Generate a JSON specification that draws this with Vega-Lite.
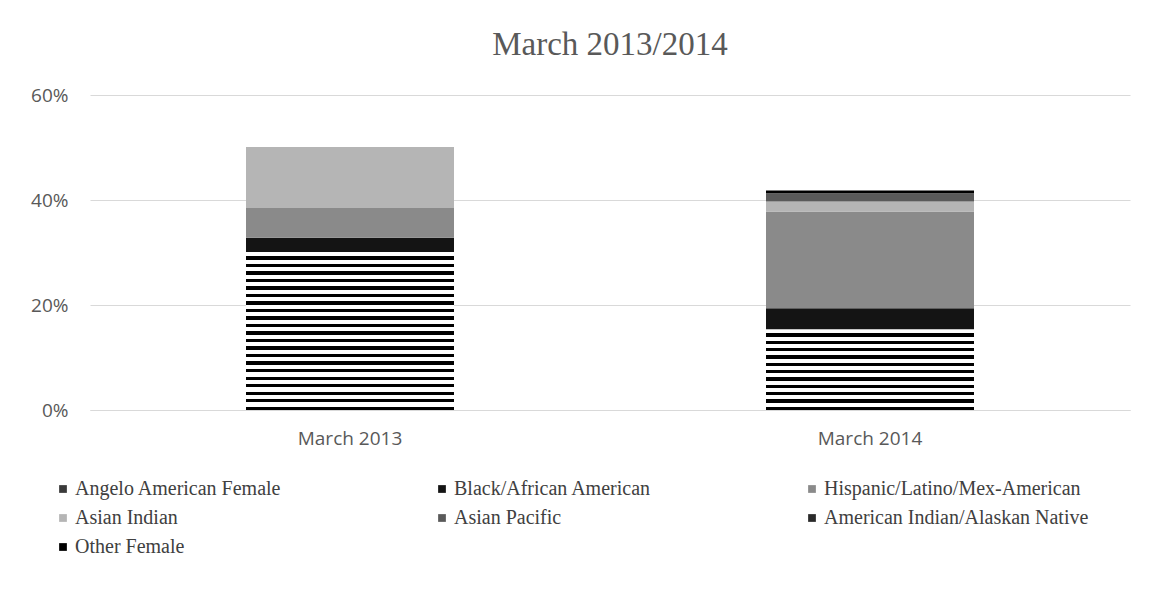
{
  "$schema": "https://vega.github.io/schema/vega-lite/v6.json",
  "autosize": {"type": "none"},
  "width": 1040,
  "height": 315,
  "padding": {"left": 90, "top": 95, "right": 21, "bottom": 179},
  "background": "white",
  "title": {
    "text": "March 2013/2014",
    "font": "Liberation Serif",
    "fontSize": 33,
    "fontWeight": "normal",
    "color": "#595959",
    "anchor": "middle",
    "offset": 24
  },
  "data": {
    "values": [
      {"period": "March 2013", "race": "Angelo American Female", "order": 1, "share": 0.301},
      {"period": "March 2013", "race": "Black/African American", "order": 2, "share": 0.027},
      {"period": "March 2013", "race": "Hispanic/Latino/Mex-American", "order": 3, "share": 0.057},
      {"period": "March 2013", "race": "Asian Indian", "order": 4, "share": 0.116},
      {"period": "March 2013", "race": "Asian Pacific", "order": 5, "share": 0.0},
      {"period": "March 2013", "race": "American Indian/Alaskan Native", "order": 6, "share": 0.0},
      {"period": "March 2013", "race": "Other Female", "order": 7, "share": 0.0},
      {"period": "March 2014", "race": "Angelo American Female", "order": 1, "share": 0.154},
      {"period": "March 2014", "race": "Black/African American", "order": 2, "share": 0.040},
      {"period": "March 2014", "race": "Hispanic/Latino/Mex-American", "order": 3, "share": 0.184},
      {"period": "March 2014", "race": "Asian Indian", "order": 4, "share": 0.019},
      {"period": "March 2014", "race": "Asian Pacific", "order": 5, "share": 0.016},
      {"period": "March 2014", "race": "American Indian/Alaskan Native", "order": 6, "share": 0.0},
      {"period": "March 2014", "race": "Other Female", "order": 7, "share": 0.005}
    ]
  },
  "mark": {"type": "bar"},
  "encoding": {
    "x": {
      "field": "period",
      "type": "nominal",
      "sort": ["March 2013", "March 2014"],
      "scale": {"paddingInner": 0.6, "paddingOuter": 0.3},
      "axis": {
        "title": null,
        "labelAngle": 0,
        "ticks": false,
        "domain": true,
        "domainColor": "#d9d9d9",
        "labelFont": "Open Sans",
        "labelFontSize": 19,
        "labelColor": "#595959",
        "labelPadding": 19
      }
    },
    "y": {
      "field": "share",
      "type": "quantitative",
      "stack": "zero",
      "scale": {"domain": [0, 0.6]},
      "axis": {
        "title": null,
        "format": ".0%",
        "values": [0, 0.2, 0.4, 0.6],
        "domain": false,
        "ticks": false,
        "grid": true,
        "gridColor": "#d9d9d9",
        "labelFont": "Open Sans",
        "labelFontSize": 19,
        "labelColor": "#595959",
        "labelPadding": 22
      }
    },
    "order": {"field": "order", "type": "quantitative"},
    "fill": {
      "condition": [
        {
          "test": "datum.race === 'Angelo American Female' && datum.period === 'March 2013'",
          "value": {
            "gradient": "linear", "x1": 0, "y1": 0, "x2": 0, "y2": 1,
            "stops": [
              {"offset": 0, "color": "white"},
              {"offset": 0.02619, "color": "white"}, {"offset": 0.02619, "color": "black"}, {"offset": 0.04762, "color": "black"}, {"offset": 0.04762, "color": "white"},
              {"offset": 0.07381, "color": "white"}, {"offset": 0.07381, "color": "black"}, {"offset": 0.09524, "color": "black"}, {"offset": 0.09524, "color": "white"},
              {"offset": 0.12143, "color": "white"}, {"offset": 0.12143, "color": "black"}, {"offset": 0.14286, "color": "black"}, {"offset": 0.14286, "color": "white"},
              {"offset": 0.16905, "color": "white"}, {"offset": 0.16905, "color": "black"}, {"offset": 0.19048, "color": "black"}, {"offset": 0.19048, "color": "white"},
              {"offset": 0.21667, "color": "white"}, {"offset": 0.21667, "color": "black"}, {"offset": 0.23810, "color": "black"}, {"offset": 0.23810, "color": "white"},
              {"offset": 0.26429, "color": "white"}, {"offset": 0.26429, "color": "black"}, {"offset": 0.28571, "color": "black"}, {"offset": 0.28571, "color": "white"},
              {"offset": 0.31190, "color": "white"}, {"offset": 0.31190, "color": "black"}, {"offset": 0.33333, "color": "black"}, {"offset": 0.33333, "color": "white"},
              {"offset": 0.35952, "color": "white"}, {"offset": 0.35952, "color": "black"}, {"offset": 0.38095, "color": "black"}, {"offset": 0.38095, "color": "white"},
              {"offset": 0.40714, "color": "white"}, {"offset": 0.40714, "color": "black"}, {"offset": 0.42857, "color": "black"}, {"offset": 0.42857, "color": "white"},
              {"offset": 0.45476, "color": "white"}, {"offset": 0.45476, "color": "black"}, {"offset": 0.47619, "color": "black"}, {"offset": 0.47619, "color": "white"},
              {"offset": 0.50238, "color": "white"}, {"offset": 0.50238, "color": "black"}, {"offset": 0.52381, "color": "black"}, {"offset": 0.52381, "color": "white"},
              {"offset": 0.55000, "color": "white"}, {"offset": 0.55000, "color": "black"}, {"offset": 0.57143, "color": "black"}, {"offset": 0.57143, "color": "white"},
              {"offset": 0.59762, "color": "white"}, {"offset": 0.59762, "color": "black"}, {"offset": 0.61905, "color": "black"}, {"offset": 0.61905, "color": "white"},
              {"offset": 0.64524, "color": "white"}, {"offset": 0.64524, "color": "black"}, {"offset": 0.66667, "color": "black"}, {"offset": 0.66667, "color": "white"},
              {"offset": 0.69286, "color": "white"}, {"offset": 0.69286, "color": "black"}, {"offset": 0.71429, "color": "black"}, {"offset": 0.71429, "color": "white"},
              {"offset": 0.74048, "color": "white"}, {"offset": 0.74048, "color": "black"}, {"offset": 0.76190, "color": "black"}, {"offset": 0.76190, "color": "white"},
              {"offset": 0.78810, "color": "white"}, {"offset": 0.78810, "color": "black"}, {"offset": 0.80952, "color": "black"}, {"offset": 0.80952, "color": "white"},
              {"offset": 0.83571, "color": "white"}, {"offset": 0.83571, "color": "black"}, {"offset": 0.85714, "color": "black"}, {"offset": 0.85714, "color": "white"},
              {"offset": 0.88333, "color": "white"}, {"offset": 0.88333, "color": "black"}, {"offset": 0.90476, "color": "black"}, {"offset": 0.90476, "color": "white"},
              {"offset": 0.93095, "color": "white"}, {"offset": 0.93095, "color": "black"}, {"offset": 0.95238, "color": "black"}, {"offset": 0.95238, "color": "white"},
              {"offset": 0.97857, "color": "white"}, {"offset": 0.97857, "color": "black"}, {"offset": 1, "color": "black"}
            ]
          }
        },
        {
          "test": "datum.race === 'Angelo American Female' && datum.period === 'March 2014'",
          "value": {
            "gradient": "linear", "x1": 0, "y1": 0, "x2": 0, "y2": 1,
            "stops": [
              {"offset": 0, "color": "white"},
              {"offset": 0.05000, "color": "white"}, {"offset": 0.05000, "color": "black"}, {"offset": 0.09091, "color": "black"}, {"offset": 0.09091, "color": "white"},
              {"offset": 0.14091, "color": "white"}, {"offset": 0.14091, "color": "black"}, {"offset": 0.18182, "color": "black"}, {"offset": 0.18182, "color": "white"},
              {"offset": 0.23182, "color": "white"}, {"offset": 0.23182, "color": "black"}, {"offset": 0.27273, "color": "black"}, {"offset": 0.27273, "color": "white"},
              {"offset": 0.32273, "color": "white"}, {"offset": 0.32273, "color": "black"}, {"offset": 0.36364, "color": "black"}, {"offset": 0.36364, "color": "white"},
              {"offset": 0.41364, "color": "white"}, {"offset": 0.41364, "color": "black"}, {"offset": 0.45455, "color": "black"}, {"offset": 0.45455, "color": "white"},
              {"offset": 0.50455, "color": "white"}, {"offset": 0.50455, "color": "black"}, {"offset": 0.54545, "color": "black"}, {"offset": 0.54545, "color": "white"},
              {"offset": 0.59545, "color": "white"}, {"offset": 0.59545, "color": "black"}, {"offset": 0.63636, "color": "black"}, {"offset": 0.63636, "color": "white"},
              {"offset": 0.68636, "color": "white"}, {"offset": 0.68636, "color": "black"}, {"offset": 0.72727, "color": "black"}, {"offset": 0.72727, "color": "white"},
              {"offset": 0.77727, "color": "white"}, {"offset": 0.77727, "color": "black"}, {"offset": 0.81818, "color": "black"}, {"offset": 0.81818, "color": "white"},
              {"offset": 0.86818, "color": "white"}, {"offset": 0.86818, "color": "black"}, {"offset": 0.90909, "color": "black"}, {"offset": 0.90909, "color": "white"},
              {"offset": 0.95909, "color": "white"}, {"offset": 0.95909, "color": "black"}, {"offset": 1, "color": "black"}
            ]
          }
        }
      ],
      "field": "race",
      "type": "nominal",
      "scale": {
        "domain": ["Angelo American Female", "Black/African American", "Hispanic/Latino/Mex-American", "Asian Indian", "Asian Pacific", "American Indian/Alaskan Native", "Other Female"],
        "range": ["#3a3a3a", "#141414", "#8a8a8a", "#b5b5b5", "#5a5a5a", "#2a2a2a", "#000000"]
      },
      "legend": {
        "title": null,
        "orient": "none",
        "legendX": -37,
        "legendY": 384,
        "direction": "horizontal",
        "columns": 3,
        "columnPadding": 150,
        "rowPadding": 9,
        "symbolType": "square",
        "symbolSize": 60,
        "symbolStrokeWidth": 0,
        "labelFont": "Liberation Serif",
        "labelFontSize": 20,
        "labelColor": "#404040",
        "labelLimit": 400,
        "labelOffset": 2
      }
    }
  },
  "config": {
    "view": {"stroke": null}
  }
}
